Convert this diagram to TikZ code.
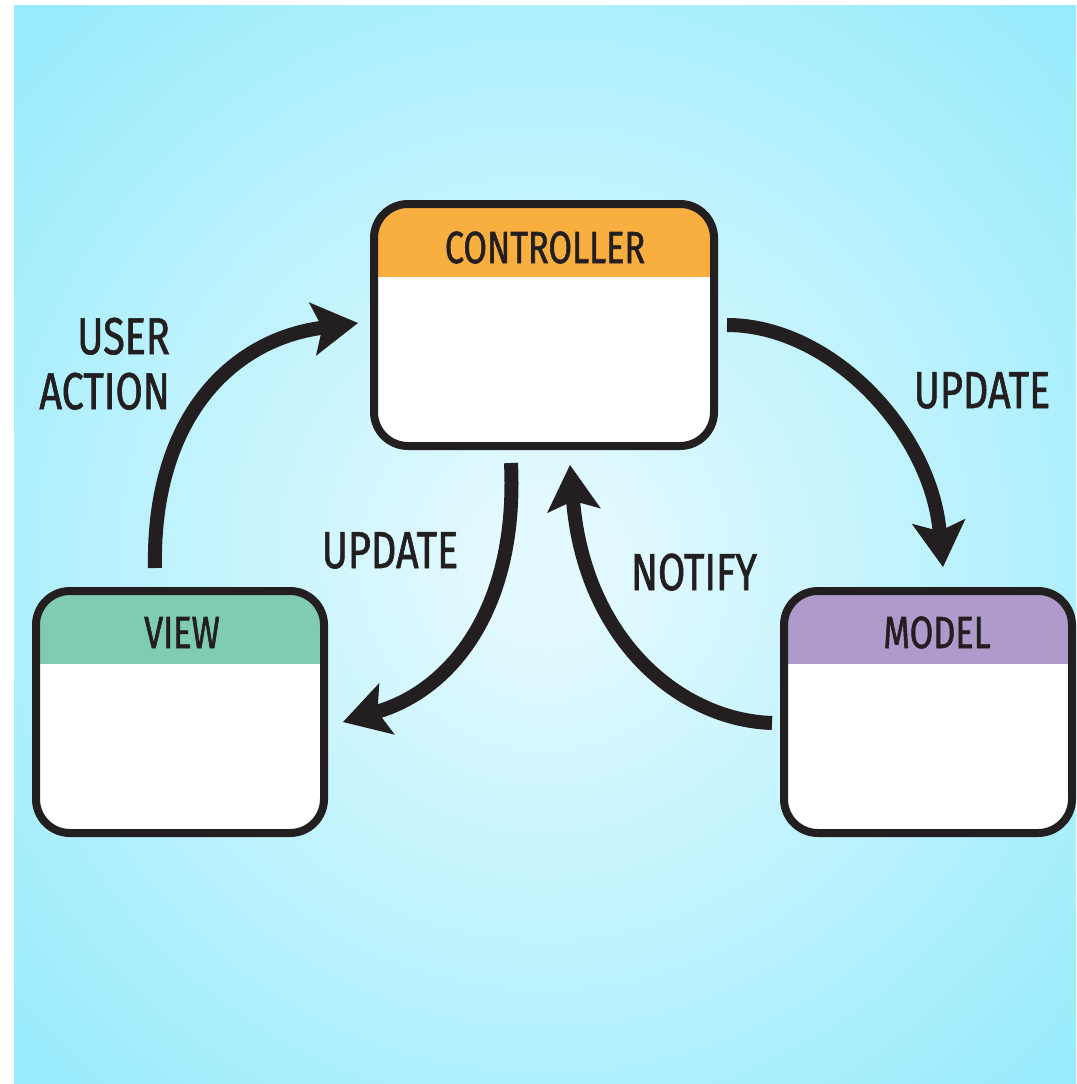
\documentclass[tikz,border=0pt]{standalone}
\usepackage{fontspec}
\setmainfont{Fira Sans}[FakeStretch=0.76, FakeBold=1.2]
\usetikzlibrary{arrows.meta}
\definecolor{ink}{HTML}{231F20}
\definecolor{ctrlhdr}{HTML}{F9AE40}
\definecolor{viewhdr}{HTML}{7FCBB3}
\definecolor{modelhdr}{HTML}{AE9BCB}
\definecolor{bgin}{HTML}{E2F9FE}
\definecolor{bgout}{HTML}{86E8FB}
\pgfdeclareradialshading{bgshade}{\pgfpoint{0bp}{-1bp}}{color(0bp)=(bgin); color(3bp)=(bgin); color(42bp)=(bgout); color(50bp)=(bgout)}
\tikzset{
  mvcbox/.style={draw=ink, line width=8pt, fill=white, rounded corners=34pt,
    minimum height=242pt, inner sep=0pt,
    path picture={\fill[#1, sharp corners] ([yshift=5pt]path picture bounding box.north west) rectangle ([yshift=-73pt]path picture bounding box.north east);}},
  boxtitle/.style={font=\fontsize{45}{50}\selectfont, text=ink, inner sep=0pt, anchor=base},
  lbl/.style={font=\fontsize{52}{55}\selectfont, text=ink, inner sep=0pt},
  conn/.style={draw=ink, line width=14pt, -{Stealth[length=46pt, width=54pt, inset=10pt, line width=0pt]}}
}
\begin{document}
\begin{tikzpicture}[x=1pt,y=-1pt]
\useasboundingbox (0,0) rectangle (1076,1084);
\fill[white] (0,0) rectangle (1076,1084);
\shade[shading=bgshade] (14,5) rectangle (1076,1083);

% boxes
\node[mvcbox=ctrlhdr, minimum width=340pt] (ctrl) at (544,325) {};
\node[mvcbox=viewhdr, minimum width=288pt] (view) at (180,712) {};
\node[mvcbox=modelhdr, minimum width=288pt] (model) at (928,712) {};

\node[boxtitle] (ctrlt) at (545,263) {CONTROLLER};
\node[boxtitle] (viewt) at (182,648) {VIEW};
\node[boxtitle] (modelt) at (937,648) {MODEL};

% connector end points
\coordinate (uaS) at (155,568);
\coordinate (uaE) at (358,323);
\coordinate (u1S) at (727,325);
\coordinate (u1E) at (943,567);
\coordinate (u2S) at (511,463);
\coordinate (u2E) at (343,722);
\coordinate (nS) at (772,723);
\coordinate (nE) at (570,465);

\draw[conn] (uaS) .. controls (152,420) and (230,340) .. (uaE);
\draw[conn] (u1S) .. controls (830,325) and (930,430) .. (u1E);
\draw[conn] (u2S) .. controls (518,610) and (450,690) .. (u2E);
\draw[conn] (nS) .. controls (680,720) and (585,640) .. (nE);

% labels
\node[lbl, anchor=south east, align=right] (ualbl) at (170,410) {USER\\ACTION};
\node[lbl, anchor=base] (upd1) at (982,408) {UPDATE};
\node[lbl, anchor=base] (upd2) at (390,568) {UPDATE};
\node[lbl, anchor=base] (notify) at (694,590) {NOTIFY};
\end{tikzpicture}
\end{document}
